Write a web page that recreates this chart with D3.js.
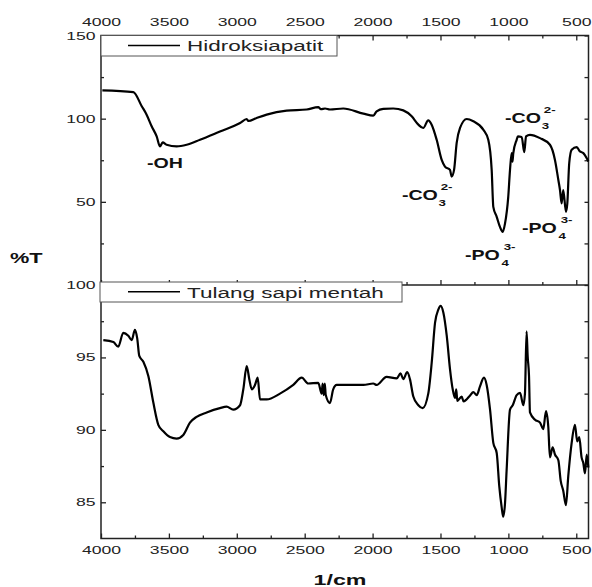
<!DOCTYPE html>
<html><head><meta charset="utf-8">
<script src="https://cdn.jsdelivr.net/npm/d3@7"></script>
<style>body{margin:0;background:#fff}svg{display:block;font-family:"Liberation Sans",Arial,sans-serif}</style>
</head><body><svg id="c" width="592" height="587"></svg>
<script>
// ---- data (wavenumber 1/cm, %T) ----
const haWave = [3990,3762,3700,3664,3627,3590,3566,3546,3517,3443,3369,3271,3124,2976,2927,2915,2854,2780,2633,2485,2400,2380,2350,2314,2216,2068,1995,1970,1921,1848,1774,1712,1663,1627,1590,1565,1528,1491,1467,1430,1418,1400,1381,1356,1307,1258,1185,1148,1123,1111,1086,1062,1042,1025,1001,988,976,970,964,939,930,902,883,870,841,767,694,657,632,620,608,596,576,566,552,534,497,473,448,423,411];
const haT    = [117,116,107.5,102.4,95.4,89.3,83.3,85.7,84.3,83.3,84.3,87.3,92.3,97.4,99.8,98.6,100.4,102.4,104.8,105.5,106.9,105.7,106.1,105.5,106.1,103,101.8,104.4,105.9,106.1,105,101.4,96.4,94.4,99,96.4,87.3,75.2,71.2,69.2,65.2,69.2,85.3,94.4,99.8,98.4,93.4,87.3,69.2,47,41,34.9,31.9,36.9,53,69.2,79.3,74.2,79.2,87.3,89.3,89,79.8,89.3,90.3,88.3,84.3,75.2,63.1,57.1,49,57.1,44,49,73.2,81.3,82.9,80.3,79.3,76.2,74.2];
const boneWave = [3983,3909,3873,3836,3799,3774,3750,3733,3718,3688,3651,3615,3578,3541,3492,3443,3394,3345,3296,3222,3124,3075,3026,2976,2952,2927,2908,2890,2866,2846,2829,2780,2682,2584,2522,2474,2400,2375,2368,2360,2352,2345,2314,2290,2264,2166,2068,1995,1970,1897,1823,1794,1774,1745,1725,1700,1663,1631,1590,1565,1540,1516,1498,1479,1454,1430,1410,1393,1384,1376,1344,1330,1283,1258,1233,1209,1180,1160,1135,1111,1086,1067,1050,1038,1025,1013,988,968,939,914,890,878,866,858,848,841,804,767,743,723,706,694,674,657,632,615,596,576,559,534,510,493,478,461,448,436,423,411];
const boneT    = [96.2,96.06,95.74,96.7,96.5,96.2,96.9,96.3,95.1,94.7,93.7,91.9,90.35,89.9,89.5,89.4,89.65,90.5,90.9,91.2,91.5,91.6,91.4,91.7,92.8,94.4,93.5,92.8,93.1,93.6,92.1,92.1,92.5,93.1,93.6,93.2,93.25,92.5,93.2,92.4,93.2,92.4,91.85,92.8,93.1,93.1,93.1,93.2,93.1,93.66,93.55,93.9,93.5,93.98,93.5,92.3,91.7,91.5,92.5,94.6,97.4,98.3,98.56,98.1,96.5,94.2,92.8,92.2,92.8,92.0,92.3,91.97,92.36,92.6,92.4,93.0,93.6,93.1,91.4,89.1,88.4,86.1,84.7,84.0,84.9,87.2,91.4,91.7,92.4,92.55,91.7,92.5,96.8,95.1,93.7,91.2,90.7,90.5,90.05,91.3,90.2,88.1,88.8,88.3,87.9,86.5,85.8,84.8,86.8,89.1,90.35,89.2,89.5,88.1,87.7,87.0,88.3,87.4];
const seriesNames = ["Hidroksiapatit","Tulang sapi mentah"];
const xTicks = [4000,3500,3000,2500,2000,1500,1000,500];
const topYTicks = [50,100,150];
const botYTicks = [85,90,95,100];
// peak annotations: text, subscript, superscript, anchor wavenumber, anchor %T (top panel)
const annText = ["-OH","-CO","-PO","-PO","-CO"];
const annSub  = ["","3","4","4","3"];
const annSup  = ["","2-","3-","3-","2-"];
const annWave = [3661,1784,1320,900,1025];
const annT    = [70.2,51,15,31.2,97.2];

// ---- layout ----
const svg = d3.select("#c");
const L=101, R=588.5, T=35.5, M=285, B=538.5;
const x = d3.scaleLinear().domain([4000,410]).range([L,R]);
const yTop = d3.scaleLinear().domain([0,150]).range([M,T]);
const yBot = d3.scaleLinear().domain([82.5,100]).range([B,M]);
const SX = 1.6; // horizontal text stretch of the original image

function stretch(sel, s){
  sel.each(function(){
    const t=d3.select(this);
    const tx=+t.attr("x")||0, ty=+t.attr("y")||0;
    t.attr("x",0).attr("y",0).attr("transform",`translate(${tx},${ty}) scale(${s},1)`);
  });
}
function styleAxis(g){
  g.select(".domain").remove();
  g.selectAll("line").attr("stroke","#222").attr("stroke-width",1.3);
  g.selectAll("text").attr("font-size",11).attr("fill","#222").attr("font-family","Liberation Sans, Arial, sans-serif");
}
const minorX = d3.range(3750,410,-500);
function drawXAxis(axisFn, y, size, labels, vals){
  const g = svg.append("g").attr("transform",`translate(0,${y})`)
    .call(axisFn(x).tickValues(vals).tickSize(size).tickPadding(labels?10:0).tickFormat(labels?d3.format("d"):""));
  styleAxis(g);
  if(labels) stretch(g.selectAll("text"), SX);
  return g;
}
// top axis of top panel (ticks pointing down, labels above)
drawXAxis(d3.axisTop, T, -5, true, xTicks);
drawXAxis(d3.axisTop, T, -3, false, minorX);
// shared boundary: ticks pointing up
drawXAxis(d3.axisBottom, M, -5, false, xTicks);
drawXAxis(d3.axisBottom, M, -3, false, minorX);
// bottom axis
const gb = svg.append("g").attr("transform",`translate(0,${B})`)
  .call(d3.axisBottom(x).tickValues(xTicks).tickSize(-5).tickPadding(8).tickFormat(d3.format("d")));
styleAxis(gb); stretch(gb.selectAll("text"), SX);
drawXAxis(d3.axisBottom, B, -3, false, minorX);

function drawY(scale, major, minor){
  const gl = svg.append("g").attr("transform",`translate(${L},0)`)
    .call(d3.axisLeft(scale).tickValues(major).tickSize(-5).tickPadding(5.5).tickFormat(d3.format("d")));
  styleAxis(gl); stretch(gl.selectAll("text"), SX);
  const gm = svg.append("g").attr("transform",`translate(${L},0)`)
    .call(d3.axisLeft(scale).tickValues(minor).tickSize(-3).tickFormat(""));
  styleAxis(gm);
  const gr = svg.append("g").attr("transform",`translate(${R},0)`)
    .call(d3.axisRight(scale).tickValues(major.concat(minor)).tickSize(-4).tickFormat(""));
  styleAxis(gr);
}
drawY(yTop, topYTicks, [25,75,125]);
drawY(yBot, botYTicks, [87.5,92.5,97.5]);

// frames
svg.append("rect").attr("x",L).attr("y",T).attr("width",R-L).attr("height",B-T)
  .attr("fill","none").attr("stroke","#222").attr("stroke-width",1.5);
svg.append("line").attr("x1",L).attr("x2",R).attr("y1",M).attr("y2",M).attr("stroke","#222").attr("stroke-width",1.5);

// curves
const ha = haWave.map((w,i)=>[w,haT[i]]);
const bone = boneWave.map((w,i)=>[w,boneT[i]]);
svg.append("path").datum(ha).attr("fill","none").attr("stroke","#000").attr("stroke-width",2.2)
  .attr("stroke-linejoin","round")
  .attr("d", d3.line().x(d=>x(d[0])).y(d=>yTop(d[1])).curve(d3.curveMonotoneX));
svg.append("path").datum(bone).attr("fill","none").attr("stroke","#000").attr("stroke-width",2.2)
  .attr("stroke-linejoin","round")
  .attr("d", d3.line().x(d=>x(d[0])).y(d=>yBot(d[1])).curve(d3.curveMonotoneX));

// legends
function legend(x0,y0,x1,y1,lineY,textY,name){
  svg.append("rect").attr("x",x0).attr("y",y0).attr("width",x1-x0).attr("height",y1-y0)
    .attr("fill","#fff").attr("stroke","#555").attr("stroke-width",1);
  svg.append("line").attr("x1",128).attr("x2",180).attr("y1",lineY).attr("y2",lineY)
    .attr("stroke","#000").attr("stroke-width",1.6);
  const t = svg.append("text").attr("x",187).attr("y",textY).attr("font-size",15).attr("fill","#222").text(name);
  stretch(t,1.5);
}
legend(L,T,337,56,45.5,51,seriesNames[0]);
legend(100,282,402,302,291.7,297.5,seriesNames[1]);

// annotations
annText.forEach((txt,i)=>{
  const px=x(annWave[i]), py=yTop(annT[i]);
  const g = svg.append("g").attr("transform",`translate(${px},${py}) scale(1.4,1)`);
  g.append("text").attr("font-weight","bold").attr("font-size",14).attr("fill","#111").text(txt);
  const w = 25.7;
  if(annSub[i]){
    g.append("text").attr("x",w+0.5).attr("y",6).attr("font-weight","bold").attr("font-size",9.5).attr("fill","#111").text(annSub[i]);
    g.append("text").attr("x",w+2).attr("y",-10).attr("font-weight","bold").attr("font-size",9.5).attr("fill","#111").text(annSup[i]);
  }
});

// axis titles
const yt = svg.append("text").attr("x",10).attr("y",262.7).attr("font-weight","bold").attr("font-size",14.5).attr("fill","#111").text("%T");
stretch(yt,1.5);
const xt = svg.append("text").attr("x",340).attr("y",585).attr("text-anchor","middle").attr("font-weight","bold").attr("font-size",15.5).attr("fill","#111").text("1/cm");
stretch(xt,1.5);
</script></body></html>
